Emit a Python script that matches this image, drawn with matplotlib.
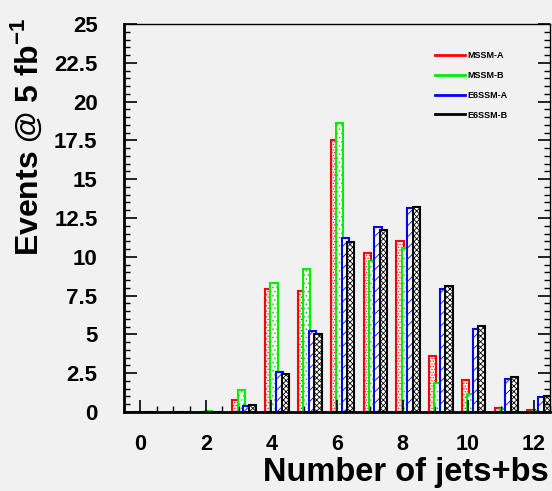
import matplotlib
matplotlib.use("Agg")
import matplotlib.pyplot as plt
from matplotlib.lines import Line2D
from matplotlib.ticker import MultipleLocator, FormatStrFormatter
import numpy as np

plt.rcParams['font.family'] = ['Liberation Sans', 'DejaVu Sans']
plt.rcParams['font.weight'] = 'bold'
plt.rcParams['mathtext.fontset'] = 'custom'
plt.rcParams['mathtext.rm'] = 'Liberation Sans:bold'
plt.rcParams['mathtext.bf'] = 'Liberation Sans:bold'
plt.rcParams['hatch.linewidth'] = 0.6

# events per number of jets+bs
n_jets = np.arange(13)
mssm_a = [0, 0, 0, 0.75, 7.9, 7.8, 17.5, 10.25, 11.05, 3.6, 2.05, 0.28, 0.1]
mssm_b = [0, 0, 0.08, 1.4, 8.3, 9.2, 18.6, 9.7, 10.55, 1.9, 1.14, 0.19, 0.08]
e6ssm_a = [0, 0, 0, 0.4, 2.55, 5.2, 11.2, 11.9, 13.15, 7.95, 5.35, 2.15, 0.95]
e6ssm_b = [0, 0, 0, 0.42, 2.45, 5.05, 10.95, 11.7, 13.2, 8.1, 5.55, 2.25, 1.02]

labels = ['MSSM-A', 'MSSM-B', 'E6SSM-A', 'E6SSM-B']
colors = ['#ff0000', '#00ee00', '#0000ff', '#000000']
hatches = ['......', '....', '///', 'xxxxxx']
offsets = [-0.08, 0.08, 0.25, 0.42]
bar_w = 0.22

bg = '#f1f1f1'
fig = plt.figure(figsize=(5.52, 4.91), dpi=100, facecolor=bg)
ax = fig.add_axes([124 / 552, 79 / 491, 426 / 552, 388 / 491], facecolor=bg)

for vals, col, h, off in zip([mssm_a, mssm_b, e6ssm_a, e6ssm_b], colors, hatches, offsets):
    ax.bar(n_jets + off, vals, width=bar_w, facecolor='white', edgecolor=col,
           hatch=h, linewidth=1.5)

ax.set_xlim(-0.5, 12.5)
ax.set_ylim(0, 25)

ax.xaxis.set_major_locator(MultipleLocator(2))
ax.xaxis.set_minor_locator(MultipleLocator(0.5))
ax.yaxis.set_major_locator(MultipleLocator(2.5))
ax.yaxis.set_minor_locator(MultipleLocator(0.5))
ax.yaxis.set_major_formatter(FormatStrFormatter('%g'))

ax.tick_params(axis='both', which='both', direction='in', color='black')
ax.tick_params(axis='y', which='both', right=True)
ax.tick_params(axis='x', which='major', length=9, width=1.2, pad=16, labelsize=15.5)
ax.tick_params(axis='x', which='minor', length=4, width=1)
ax.tick_params(axis='y', which='major', length=9, width=1.2, pad=19, labelsize=16)
ax.tick_params(axis='y', which='minor', length=4.5, width=1)

ax.spines['left'].set_linewidth(2)
ax.spines['bottom'].set_linewidth(2)
ax.spines['top'].set_linewidth(1)
ax.spines['right'].set_linewidth(1)

fig.text(27 / 552, 1 - 137 / 491, r'Events @ 5 fb$^{-1}$', rotation=90,
         ha='center', va='center', fontsize=23, fontweight='bold')
fig.text(549 / 552, 1 - 472 / 491, 'Number of jets+bs', ha='right', va='center',
         fontsize=23.5, fontweight='bold')

handles = [Line2D([0], [0], color=c, lw=2) for c in colors]
ax.legend(handles, labels, loc='upper left', bbox_to_anchor=(435 / 552, 1 - 51 / 491),
          bbox_transform=fig.transFigure, frameon=False,
          handlelength=3.3, handletextpad=0.25, labelspacing=1.2,
          borderpad=0, borderaxespad=0, prop={'weight': 'bold', 'size': 6.5})

fig.savefig('out.png', dpi=100, facecolor=bg)
